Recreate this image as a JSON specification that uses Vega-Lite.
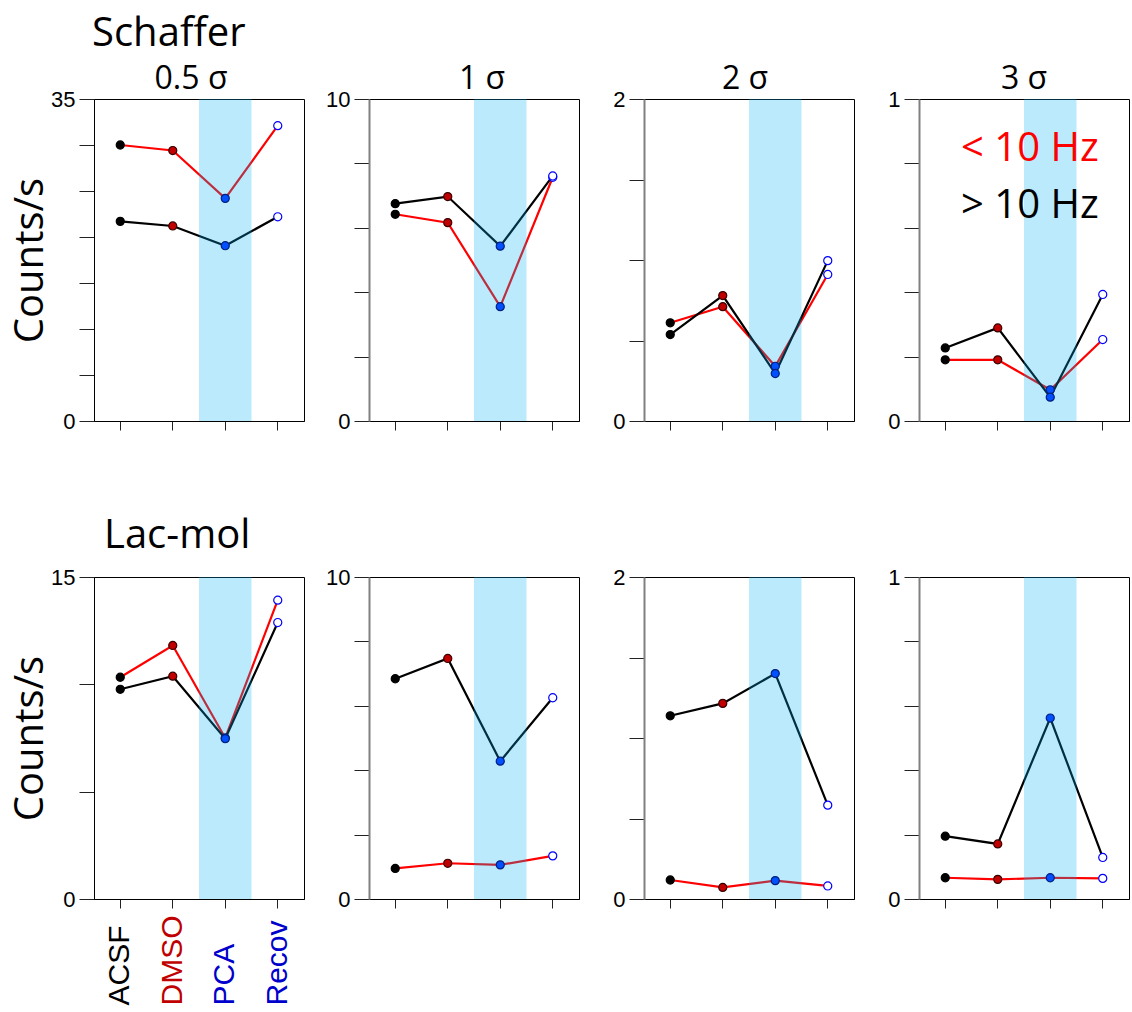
{
  "$schema": "https://vega.github.io/schema/vega-lite/v6.json",
  "padding": {"top": 13, "left": 10, "right": 0, "bottom": 0},
  "background": "white",
  "config": {
    "view": {"stroke": "#000000", "strokeWidth": 1},
    "axis": {"grid": false, "labelFont": "Liberation Sans", "labelFontSize": 22, "labelColor": "#000000", "tickColor": "#222222", "domainColor": "#000000", "titleFont": "Open Sans", "titleFontSize": 40, "titleFontWeight": "normal", "titleColor": "#000000"},
    "title": {"font": "Open Sans", "fontWeight": "normal", "color": "#000000"}
  },
  "title": {"text": "Schaffer", "fontSize": 40, "anchor": "start", "frame": "bounds", "dx": 82, "offset": 9},
  "datasets": {
    "d": [
      {"r": "S", "s": "0.5", "cond": "ACSF", "freq": "< 10 Hz", "v": 30.0},
      {"r": "S", "s": "0.5", "cond": "DMSO", "freq": "< 10 Hz", "v": 29.4},
      {"r": "S", "s": "0.5", "cond": "PCA", "freq": "< 10 Hz", "v": 24.2},
      {"r": "S", "s": "0.5", "cond": "Recov", "freq": "< 10 Hz", "v": 32.1},
      {"r": "S", "s": "0.5", "cond": "ACSF", "freq": "> 10 Hz", "v": 21.7},
      {"r": "S", "s": "0.5", "cond": "DMSO", "freq": "> 10 Hz", "v": 21.2},
      {"r": "S", "s": "0.5", "cond": "PCA", "freq": "> 10 Hz", "v": 19.05},
      {"r": "S", "s": "0.5", "cond": "Recov", "freq": "> 10 Hz", "v": 22.2},
      {"r": "S", "s": "1", "cond": "ACSF", "freq": "< 10 Hz", "v": 6.42},
      {"r": "S", "s": "1", "cond": "DMSO", "freq": "< 10 Hz", "v": 6.16},
      {"r": "S", "s": "1", "cond": "PCA", "freq": "< 10 Hz", "v": 3.55},
      {"r": "S", "s": "1", "cond": "Recov", "freq": "< 10 Hz", "v": 7.57},
      {"r": "S", "s": "1", "cond": "ACSF", "freq": "> 10 Hz", "v": 6.75},
      {"r": "S", "s": "1", "cond": "DMSO", "freq": "> 10 Hz", "v": 6.97},
      {"r": "S", "s": "1", "cond": "PCA", "freq": "> 10 Hz", "v": 5.43},
      {"r": "S", "s": "1", "cond": "Recov", "freq": "> 10 Hz", "v": 7.61},
      {"r": "S", "s": "2", "cond": "ACSF", "freq": "< 10 Hz", "v": 0.61},
      {"r": "S", "s": "2", "cond": "DMSO", "freq": "< 10 Hz", "v": 0.71},
      {"r": "S", "s": "2", "cond": "PCA", "freq": "< 10 Hz", "v": 0.34},
      {"r": "S", "s": "2", "cond": "Recov", "freq": "< 10 Hz", "v": 0.91},
      {"r": "S", "s": "2", "cond": "ACSF", "freq": "> 10 Hz", "v": 0.537},
      {"r": "S", "s": "2", "cond": "DMSO", "freq": "> 10 Hz", "v": 0.779},
      {"r": "S", "s": "2", "cond": "PCA", "freq": "> 10 Hz", "v": 0.295},
      {"r": "S", "s": "2", "cond": "Recov", "freq": "> 10 Hz", "v": 0.996},
      {"r": "S", "s": "3", "cond": "ACSF", "freq": "< 10 Hz", "v": 0.19},
      {"r": "S", "s": "3", "cond": "DMSO", "freq": "< 10 Hz", "v": 0.19},
      {"r": "S", "s": "3", "cond": "PCA", "freq": "< 10 Hz", "v": 0.097},
      {"r": "S", "s": "3", "cond": "Recov", "freq": "< 10 Hz", "v": 0.253},
      {"r": "S", "s": "3", "cond": "ACSF", "freq": "> 10 Hz", "v": 0.227},
      {"r": "S", "s": "3", "cond": "DMSO", "freq": "> 10 Hz", "v": 0.289},
      {"r": "S", "s": "3", "cond": "PCA", "freq": "> 10 Hz", "v": 0.074},
      {"r": "S", "s": "3", "cond": "Recov", "freq": "> 10 Hz", "v": 0.393},
      {"r": "L", "s": "0.5", "cond": "ACSF", "freq": "< 10 Hz", "v": 10.33},
      {"r": "L", "s": "0.5", "cond": "DMSO", "freq": "< 10 Hz", "v": 11.81},
      {"r": "L", "s": "0.5", "cond": "PCA", "freq": "< 10 Hz", "v": 7.5},
      {"r": "L", "s": "0.5", "cond": "Recov", "freq": "< 10 Hz", "v": 13.92},
      {"r": "L", "s": "0.5", "cond": "ACSF", "freq": "> 10 Hz", "v": 9.77},
      {"r": "L", "s": "0.5", "cond": "DMSO", "freq": "> 10 Hz", "v": 10.38},
      {"r": "L", "s": "0.5", "cond": "PCA", "freq": "> 10 Hz", "v": 7.47},
      {"r": "L", "s": "0.5", "cond": "Recov", "freq": "> 10 Hz", "v": 12.88},
      {"r": "L", "s": "1", "cond": "ACSF", "freq": "< 10 Hz", "v": 0.95},
      {"r": "L", "s": "1", "cond": "DMSO", "freq": "< 10 Hz", "v": 1.11},
      {"r": "L", "s": "1", "cond": "PCA", "freq": "< 10 Hz", "v": 1.06},
      {"r": "L", "s": "1", "cond": "Recov", "freq": "< 10 Hz", "v": 1.34},
      {"r": "L", "s": "1", "cond": "ACSF", "freq": "> 10 Hz", "v": 6.84},
      {"r": "L", "s": "1", "cond": "DMSO", "freq": "> 10 Hz", "v": 7.47},
      {"r": "L", "s": "1", "cond": "PCA", "freq": "> 10 Hz", "v": 4.28},
      {"r": "L", "s": "1", "cond": "Recov", "freq": "> 10 Hz", "v": 6.25},
      {"r": "L", "s": "2", "cond": "ACSF", "freq": "< 10 Hz", "v": 0.118},
      {"r": "L", "s": "2", "cond": "DMSO", "freq": "< 10 Hz", "v": 0.072},
      {"r": "L", "s": "2", "cond": "PCA", "freq": "< 10 Hz", "v": 0.114},
      {"r": "L", "s": "2", "cond": "Recov", "freq": "< 10 Hz", "v": 0.081},
      {"r": "L", "s": "2", "cond": "ACSF", "freq": "> 10 Hz", "v": 1.138},
      {"r": "L", "s": "2", "cond": "DMSO", "freq": "> 10 Hz", "v": 1.215},
      {"r": "L", "s": "2", "cond": "PCA", "freq": "> 10 Hz", "v": 1.40},
      {"r": "L", "s": "2", "cond": "Recov", "freq": "> 10 Hz", "v": 0.583},
      {"r": "L", "s": "3", "cond": "ACSF", "freq": "< 10 Hz", "v": 0.066},
      {"r": "L", "s": "3", "cond": "DMSO", "freq": "< 10 Hz", "v": 0.061},
      {"r": "L", "s": "3", "cond": "PCA", "freq": "< 10 Hz", "v": 0.066},
      {"r": "L", "s": "3", "cond": "Recov", "freq": "< 10 Hz", "v": 0.064},
      {"r": "L", "s": "3", "cond": "ACSF", "freq": "> 10 Hz", "v": 0.195},
      {"r": "L", "s": "3", "cond": "DMSO", "freq": "> 10 Hz", "v": 0.171},
      {"r": "L", "s": "3", "cond": "PCA", "freq": "> 10 Hz", "v": 0.562},
      {"r": "L", "s": "3", "cond": "Recov", "freq": "> 10 Hz", "v": 0.129}
    ],
    "band": [{"cond": "PCA"}]
  },
  "columns": 4,
  "spacing": {"row": 156, "column": 65},
  "bounds": "flush",
  "resolve": {"scale": {"color": "independent", "fill": "independent", "stroke": "independent"}, "legend": {"color": "independent", "fill": "independent", "stroke": "independent"}},
  "concat": [
    {
      "width": 210, "height": 322,
      "title": {"text": "0.5 σ", "fontSize": 32, "offset": -8, "dx": -8},
      "layer": [
        {"data": {"name": "d"}, "transform": [{"filter": "datum.r=='S' && datum.s=='0.5'"}],
         "mark": {"type": "line", "strokeWidth": 2.2},
         "encoding": {
           "x": {"field": "cond", "type": "nominal", "scale": {"type": "band", "domain": ["ACSF", "DMSO", "PCA", "Recov"], "paddingInner": 0, "paddingOuter": 0}, "axis": {"labels": false, "title": null, "tickSize": 9, "domainColor": "#000000"}},
           "y": {"field": "v", "type": "quantitative", "scale": {"domain": [0, 35], "nice": false}, "axis": {"values": [0, 5, 10, 15, 20, 25, 30, 35], "labelExpr": "datum.value==0||datum.value==35?format(datum.value,'~g'):''", "tickSize": 15, "labelPadding": 4, "title": "Counts/s", "titlePadding": 0}},
           "color": {"field": "freq", "type": "nominal", "scale": {"domain": ["< 10 Hz", "> 10 Hz"], "range": ["#ff0000", "#000000"]}, "legend": null}
         }},
        {"data": {"name": "band"}, "mark": {"type": "rect", "color": "#00b0f0", "opacity": 0.27}, "encoding": {"x": {"field": "cond", "type": "nominal"}}},
        {"data": {"name": "d"}, "transform": [{"filter": "datum.r=='S' && datum.s=='0.5'"}],
         "mark": {"type": "circle", "size": 65, "opacity": 1, "strokeWidth": 1.2},
         "encoding": {
           "x": {"field": "cond", "type": "nominal"},
           "y": {"field": "v", "type": "quantitative"},
           "fill": {"field": "cond", "type": "nominal", "scale": {"domain": ["ACSF", "DMSO", "PCA", "Recov"], "range": ["#000000", "#c00000", "#0050ff", "#ffffff"]}, "legend": null},
           "stroke": {"field": "cond", "type": "nominal", "scale": {"domain": ["ACSF", "DMSO", "PCA", "Recov"], "range": ["#000000", "#3a0000", "#002080", "#0000ff"]}, "legend": null}
         }}
      ]
    },
    {
      "width": 210, "height": 322,
      "title": {"text": "1 σ", "fontSize": 32, "offset": -8, "dx": 8},
      "layer": [
        {"data": {"name": "d"}, "transform": [{"filter": "datum.r=='S' && datum.s=='1'"}],
         "mark": {"type": "line", "strokeWidth": 2.2},
         "encoding": {
           "x": {"field": "cond", "type": "nominal", "scale": {"type": "band", "domain": ["ACSF", "DMSO", "PCA", "Recov"], "paddingInner": 0, "paddingOuter": 0}, "axis": {"labels": false, "title": null, "tickSize": 9, "domainColor": "#000000"}},
           "y": {"field": "v", "type": "quantitative", "scale": {"domain": [0, 10], "nice": false}, "axis": {"values": [0, 2, 4, 6, 8, 10], "labelExpr": "datum.value==0||datum.value==10?format(datum.value,'~g'):''", "tickSize": 15, "labelPadding": 4, "title": null, "domainColor": "#808080", "domainWidth": 2}},
           "color": {"field": "freq", "type": "nominal", "scale": {"domain": ["< 10 Hz", "> 10 Hz"], "range": ["#ff0000", "#000000"]}, "legend": null}
         }},
        {"data": {"name": "band"}, "mark": {"type": "rect", "color": "#00b0f0", "opacity": 0.27}, "encoding": {"x": {"field": "cond", "type": "nominal"}}},
        {"data": {"name": "d"}, "transform": [{"filter": "datum.r=='S' && datum.s=='1'"}],
         "mark": {"type": "circle", "size": 65, "opacity": 1, "strokeWidth": 1.2},
         "encoding": {
           "x": {"field": "cond", "type": "nominal"},
           "y": {"field": "v", "type": "quantitative"},
           "fill": {"field": "cond", "type": "nominal", "scale": {"domain": ["ACSF", "DMSO", "PCA", "Recov"], "range": ["#000000", "#c00000", "#0050ff", "#ffffff"]}, "legend": null},
           "stroke": {"field": "cond", "type": "nominal", "scale": {"domain": ["ACSF", "DMSO", "PCA", "Recov"], "range": ["#000000", "#3a0000", "#002080", "#0000ff"]}, "legend": null}
         }}
      ]
    },
    {
      "width": 210, "height": 322,
      "title": {"text": "2 σ", "fontSize": 32, "offset": -8, "dx": -4},
      "layer": [
        {"data": {"name": "d"}, "transform": [{"filter": "datum.r=='S' && datum.s=='2'"}],
         "mark": {"type": "line", "strokeWidth": 2.2},
         "encoding": {
           "x": {"field": "cond", "type": "nominal", "scale": {"type": "band", "domain": ["ACSF", "DMSO", "PCA", "Recov"], "paddingInner": 0, "paddingOuter": 0}, "axis": {"labels": false, "title": null, "tickSize": 9, "domainColor": "#000000"}},
           "y": {"field": "v", "type": "quantitative", "scale": {"domain": [0, 2], "nice": false}, "axis": {"values": [0, 0.5, 1, 1.5, 2], "labelExpr": "datum.value==0||datum.value==2?format(datum.value,'~g'):''", "tickSize": 15, "labelPadding": 4, "title": null, "domainColor": "#808080", "domainWidth": 2}},
           "color": {"field": "freq", "type": "nominal", "scale": {"domain": ["< 10 Hz", "> 10 Hz"], "range": ["#ff0000", "#000000"]}, "legend": null}
         }},
        {"data": {"name": "band"}, "mark": {"type": "rect", "color": "#00b0f0", "opacity": 0.27}, "encoding": {"x": {"field": "cond", "type": "nominal"}}},
        {"data": {"name": "d"}, "transform": [{"filter": "datum.r=='S' && datum.s=='2'"}],
         "mark": {"type": "circle", "size": 65, "opacity": 1, "strokeWidth": 1.2},
         "encoding": {
           "x": {"field": "cond", "type": "nominal"},
           "y": {"field": "v", "type": "quantitative"},
           "fill": {"field": "cond", "type": "nominal", "scale": {"domain": ["ACSF", "DMSO", "PCA", "Recov"], "range": ["#000000", "#c00000", "#0050ff", "#ffffff"]}, "legend": null},
           "stroke": {"field": "cond", "type": "nominal", "scale": {"domain": ["ACSF", "DMSO", "PCA", "Recov"], "range": ["#000000", "#3a0000", "#002080", "#0000ff"]}, "legend": null}
         }}
      ]
    },
    {
      "width": 210, "height": 322,
      "title": {"text": "3 σ", "fontSize": 32, "offset": -8},
      "layer": [
        {"data": {"name": "d"}, "transform": [{"filter": "datum.r=='S' && datum.s=='3'"}],
         "mark": {"type": "line", "strokeWidth": 2.2},
         "encoding": {
           "x": {"field": "cond", "type": "nominal", "scale": {"type": "band", "domain": ["ACSF", "DMSO", "PCA", "Recov"], "paddingInner": 0, "paddingOuter": 0}, "axis": {"labels": false, "title": null, "tickSize": 9, "domainColor": "#000000"}},
           "y": {"field": "v", "type": "quantitative", "scale": {"domain": [0, 1], "nice": false}, "axis": {"values": [0, 0.2, 0.4, 0.6, 0.8, 1], "labelExpr": "datum.value==0||datum.value==1?format(datum.value,'~g'):''", "tickSize": 15, "labelPadding": 4, "title": null, "domainColor": "#808080", "domainWidth": 2}},
           "color": {"field": "freq", "type": "nominal", "scale": {"domain": ["< 10 Hz", "> 10 Hz"], "range": ["#ff0000", "#000000"]},
             "legend": {"orient": "top-right", "offset": 30, "padding": 0, "title": null, "labelFont": "Open Sans", "labelFontSize": 40, "labelLimit": 400, "labelOffset": 0, "symbolSize": 0, "symbolStrokeWidth": 0, "symbolOpacity": 0, "rowPadding": 17, "labelColor": {"expr": "datum.value == '< 10 Hz' ? '#ff0000' : '#000000'"}}}
         }},
        {"data": {"name": "band"}, "mark": {"type": "rect", "color": "#00b0f0", "opacity": 0.27}, "encoding": {"x": {"field": "cond", "type": "nominal"}}},
        {"data": {"name": "d"}, "transform": [{"filter": "datum.r=='S' && datum.s=='3'"}],
         "mark": {"type": "circle", "size": 65, "opacity": 1, "strokeWidth": 1.2},
         "encoding": {
           "x": {"field": "cond", "type": "nominal"},
           "y": {"field": "v", "type": "quantitative"},
           "fill": {"field": "cond", "type": "nominal", "scale": {"domain": ["ACSF", "DMSO", "PCA", "Recov"], "range": ["#000000", "#c00000", "#0050ff", "#ffffff"]}, "legend": null},
           "stroke": {"field": "cond", "type": "nominal", "scale": {"domain": ["ACSF", "DMSO", "PCA", "Recov"], "range": ["#000000", "#3a0000", "#002080", "#0000ff"]}, "legend": null}
         }}
      ]
    },
    {
      "width": 210, "height": 322,
      "title": {"text": "Lac-mol", "fontSize": 40, "anchor": "start", "frame": "group", "dx": 10, "offset": 10},
      "layer": [
        {"data": {"name": "d"}, "transform": [{"filter": "datum.r=='L' && datum.s=='0.5'"}],
         "mark": {"type": "line", "strokeWidth": 2.2},
         "encoding": {
           "x": {"field": "cond", "type": "nominal", "scale": {"type": "band", "domain": ["ACSF", "DMSO", "PCA", "Recov"], "paddingInner": 0, "paddingOuter": 0},
             "axis": {"title": null, "tickSize": 9, "domainColor": "#000000", "labelAngle": 270, "labelAlign": "left", "labelBaseline": "middle", "labelPadding": 97, "labelFontSize": 30,
               "labelColor": {"condition": [{"test": "datum.value=='ACSF'", "value": "#000000"}, {"test": "datum.value=='DMSO'", "value": "#c00000"}], "value": "#0000cc"}}},
           "y": {"field": "v", "type": "quantitative", "scale": {"domain": [0, 15], "nice": false}, "axis": {"values": [0, 5, 10, 15], "labelExpr": "datum.value==0||datum.value==15?format(datum.value,'~g'):''", "tickSize": 15, "labelPadding": 4, "title": "Counts/s", "titlePadding": 0}},
           "color": {"field": "freq", "type": "nominal", "scale": {"domain": ["< 10 Hz", "> 10 Hz"], "range": ["#ff0000", "#000000"]}, "legend": null}
         }},
        {"data": {"name": "band"}, "mark": {"type": "rect", "color": "#00b0f0", "opacity": 0.27}, "encoding": {"x": {"field": "cond", "type": "nominal"}}},
        {"data": {"name": "d"}, "transform": [{"filter": "datum.r=='L' && datum.s=='0.5'"}],
         "mark": {"type": "circle", "size": 65, "opacity": 1, "strokeWidth": 1.2},
         "encoding": {
           "x": {"field": "cond", "type": "nominal"},
           "y": {"field": "v", "type": "quantitative"},
           "fill": {"field": "cond", "type": "nominal", "scale": {"domain": ["ACSF", "DMSO", "PCA", "Recov"], "range": ["#000000", "#c00000", "#0050ff", "#ffffff"]}, "legend": null},
           "stroke": {"field": "cond", "type": "nominal", "scale": {"domain": ["ACSF", "DMSO", "PCA", "Recov"], "range": ["#000000", "#3a0000", "#002080", "#0000ff"]}, "legend": null}
         }}
      ]
    },
    {
      "width": 210, "height": 322,
      "layer": [
        {"data": {"name": "d"}, "transform": [{"filter": "datum.r=='L' && datum.s=='1'"}],
         "mark": {"type": "line", "strokeWidth": 2.2},
         "encoding": {
           "x": {"field": "cond", "type": "nominal", "scale": {"type": "band", "domain": ["ACSF", "DMSO", "PCA", "Recov"], "paddingInner": 0, "paddingOuter": 0}, "axis": {"labels": false, "title": null, "tickSize": 9, "domainColor": "#000000"}},
           "y": {"field": "v", "type": "quantitative", "scale": {"domain": [0, 10], "nice": false}, "axis": {"values": [0, 2, 4, 6, 8, 10], "labelExpr": "datum.value==0||datum.value==10?format(datum.value,'~g'):''", "tickSize": 15, "labelPadding": 4, "title": null, "domainColor": "#808080", "domainWidth": 2}},
           "color": {"field": "freq", "type": "nominal", "scale": {"domain": ["< 10 Hz", "> 10 Hz"], "range": ["#ff0000", "#000000"]}, "legend": null}
         }},
        {"data": {"name": "band"}, "mark": {"type": "rect", "color": "#00b0f0", "opacity": 0.27}, "encoding": {"x": {"field": "cond", "type": "nominal"}}},
        {"data": {"name": "d"}, "transform": [{"filter": "datum.r=='L' && datum.s=='1'"}],
         "mark": {"type": "circle", "size": 65, "opacity": 1, "strokeWidth": 1.2},
         "encoding": {
           "x": {"field": "cond", "type": "nominal"},
           "y": {"field": "v", "type": "quantitative"},
           "fill": {"field": "cond", "type": "nominal", "scale": {"domain": ["ACSF", "DMSO", "PCA", "Recov"], "range": ["#000000", "#c00000", "#0050ff", "#ffffff"]}, "legend": null},
           "stroke": {"field": "cond", "type": "nominal", "scale": {"domain": ["ACSF", "DMSO", "PCA", "Recov"], "range": ["#000000", "#3a0000", "#002080", "#0000ff"]}, "legend": null}
         }}
      ]
    },
    {
      "width": 210, "height": 322,
      "layer": [
        {"data": {"name": "d"}, "transform": [{"filter": "datum.r=='L' && datum.s=='2'"}],
         "mark": {"type": "line", "strokeWidth": 2.2},
         "encoding": {
           "x": {"field": "cond", "type": "nominal", "scale": {"type": "band", "domain": ["ACSF", "DMSO", "PCA", "Recov"], "paddingInner": 0, "paddingOuter": 0}, "axis": {"labels": false, "title": null, "tickSize": 9, "domainColor": "#000000"}},
           "y": {"field": "v", "type": "quantitative", "scale": {"domain": [0, 2], "nice": false}, "axis": {"values": [0, 0.5, 1, 1.5, 2], "labelExpr": "datum.value==0||datum.value==2?format(datum.value,'~g'):''", "tickSize": 15, "labelPadding": 4, "title": null, "domainColor": "#808080", "domainWidth": 2}},
           "color": {"field": "freq", "type": "nominal", "scale": {"domain": ["< 10 Hz", "> 10 Hz"], "range": ["#ff0000", "#000000"]}, "legend": null}
         }},
        {"data": {"name": "band"}, "mark": {"type": "rect", "color": "#00b0f0", "opacity": 0.27}, "encoding": {"x": {"field": "cond", "type": "nominal"}}},
        {"data": {"name": "d"}, "transform": [{"filter": "datum.r=='L' && datum.s=='2'"}],
         "mark": {"type": "circle", "size": 65, "opacity": 1, "strokeWidth": 1.2},
         "encoding": {
           "x": {"field": "cond", "type": "nominal"},
           "y": {"field": "v", "type": "quantitative"},
           "fill": {"field": "cond", "type": "nominal", "scale": {"domain": ["ACSF", "DMSO", "PCA", "Recov"], "range": ["#000000", "#c00000", "#0050ff", "#ffffff"]}, "legend": null},
           "stroke": {"field": "cond", "type": "nominal", "scale": {"domain": ["ACSF", "DMSO", "PCA", "Recov"], "range": ["#000000", "#3a0000", "#002080", "#0000ff"]}, "legend": null}
         }}
      ]
    },
    {
      "width": 210, "height": 322,
      "layer": [
        {"data": {"name": "d"}, "transform": [{"filter": "datum.r=='L' && datum.s=='3'"}],
         "mark": {"type": "line", "strokeWidth": 2.2},
         "encoding": {
           "x": {"field": "cond", "type": "nominal", "scale": {"type": "band", "domain": ["ACSF", "DMSO", "PCA", "Recov"], "paddingInner": 0, "paddingOuter": 0}, "axis": {"labels": false, "title": null, "tickSize": 9, "domainColor": "#000000"}},
           "y": {"field": "v", "type": "quantitative", "scale": {"domain": [0, 1], "nice": false}, "axis": {"values": [0, 0.2, 0.4, 0.6, 0.8, 1], "labelExpr": "datum.value==0||datum.value==1?format(datum.value,'~g'):''", "tickSize": 15, "labelPadding": 4, "title": null, "domainColor": "#808080", "domainWidth": 2}},
           "color": {"field": "freq", "type": "nominal", "scale": {"domain": ["< 10 Hz", "> 10 Hz"], "range": ["#ff0000", "#000000"]}, "legend": null}
         }},
        {"data": {"name": "band"}, "mark": {"type": "rect", "color": "#00b0f0", "opacity": 0.27}, "encoding": {"x": {"field": "cond", "type": "nominal"}}},
        {"data": {"name": "d"}, "transform": [{"filter": "datum.r=='L' && datum.s=='3'"}],
         "mark": {"type": "circle", "size": 65, "opacity": 1, "strokeWidth": 1.2},
         "encoding": {
           "x": {"field": "cond", "type": "nominal"},
           "y": {"field": "v", "type": "quantitative"},
           "fill": {"field": "cond", "type": "nominal", "scale": {"domain": ["ACSF", "DMSO", "PCA", "Recov"], "range": ["#000000", "#c00000", "#0050ff", "#ffffff"]}, "legend": null},
           "stroke": {"field": "cond", "type": "nominal", "scale": {"domain": ["ACSF", "DMSO", "PCA", "Recov"], "range": ["#000000", "#3a0000", "#002080", "#0000ff"]}, "legend": null}
         }}
      ]
    }
  ]
}
